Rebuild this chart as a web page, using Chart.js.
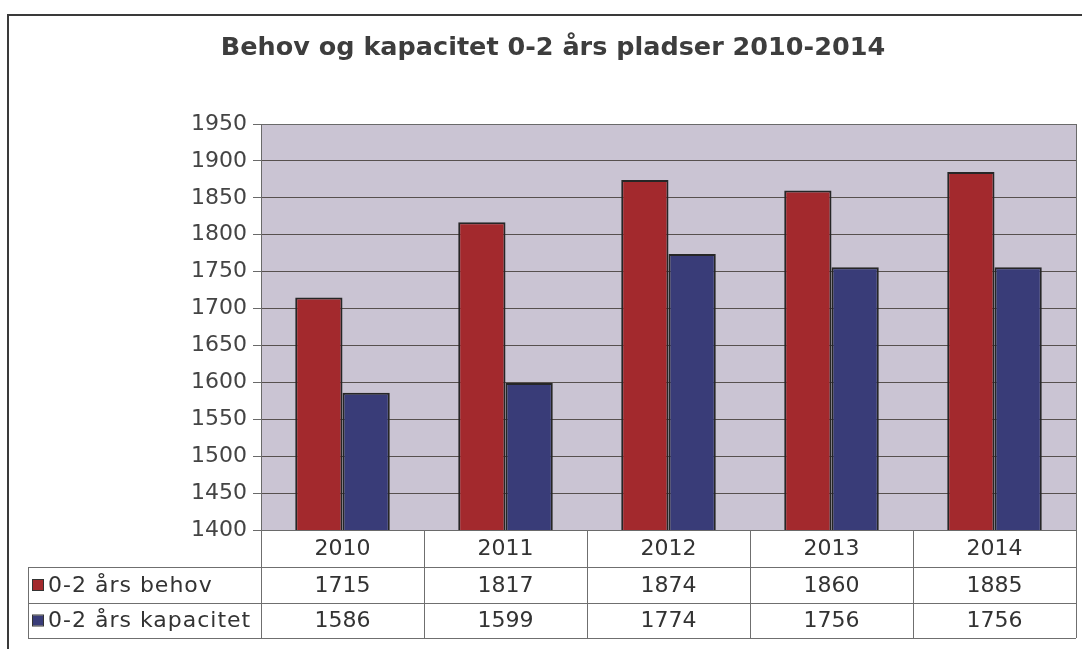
<!DOCTYPE html>
<html>
<head>
<meta charset="utf-8">
<script src="https://cdn.jsdelivr.net/npm/chart.js@4"></script>
<style>
  body { margin: 0; background: #fff; }
  canvas { display: block; }
</style>
</head>
<body>
<canvas id="chart" width="1082" height="649"></canvas>
<script>
var years = ['2010', '2011', '2012', '2013', '2014'];
var behov = [1715, 1817, 1874, 1860, 1885];
var kapacitet = [1586, 1599, 1774, 1756, 1756];
var seriesNames = ['0-2 års behov', '0-2 års kapacitet'];
var seriesColors = ['#a3292d', '#393c78'];
var titleText = 'Behov og kapacitet 0-2 års pladser 2010-2014';
var yMin = 1400, yMax = 1950, yStep = 50;

var fontFamily = '"DejaVu Sans", Verdana, sans-serif';

// frame, title, plot background and the data table under the bars
var chartDecor = {
  id: 'chartDecor',
  beforeDraw: function (chart) {
    var ctx = chart.ctx;
    var a = chart.chartArea;
    ctx.save();
    ctx.fillStyle = '#cac4d3';
    ctx.fillRect(a.left, a.top, a.right - a.left, a.bottom - a.top);
    ctx.restore();
  },
  afterDraw: function (chart) {
    var ctx = chart.ctx;
    var a = chart.chartArea;
    var x = chart.scales.x;
    var n = years.length;
    var colW = (a.right - a.left) / n;
    var rowTop = [a.bottom, 567, 603];
    var rowBottom = 638;
    var legendLeft = 28;

    ctx.save();
    // outer frame
    ctx.strokeStyle = '#3a3a3a';
    ctx.lineWidth = 2;
    ctx.strokeRect(8, 15, 1100, 700);

    // title
    ctx.fillStyle = '#3d3d3d';
    ctx.font = 'bold 25.5px ' + fontFamily;
    ctx.textAlign = 'center';
    ctx.textBaseline = 'middle';
    ctx.fillText(titleText, 553, 48);

    // plot border
    ctx.strokeStyle = '#6a6a6a';
    ctx.lineWidth = 1;
    ctx.strokeRect(a.left + 0.5, a.top + 0.5, a.right - a.left, a.bottom - a.top);

    // table grid
    ctx.strokeStyle = '#6f6f6f';
    ctx.beginPath();
    for (var i = 0; i <= n; i++) {
      var cx = Math.round(a.left + i * colW) + 0.5;
      ctx.moveTo(cx, a.bottom);
      ctx.lineTo(cx, rowBottom);
    }
    ctx.moveTo(legendLeft + 0.5, rowTop[1]);
    ctx.lineTo(legendLeft + 0.5, rowBottom);
    [rowTop[1], rowTop[2], rowBottom].forEach(function (y) {
      ctx.moveTo(legendLeft, y + 0.5);
      ctx.lineTo(a.right, y + 0.5);
    });
    ctx.stroke();

    // table text
    ctx.fillStyle = '#333';
    ctx.font = '22px ' + fontFamily;
    ctx.textAlign = 'center';
    ctx.textBaseline = 'middle';
    var rows = [years, behov, kapacitet];
    for (var r = 0; r < rows.length; r++) {
      var yMid = ((r < 2 ? rowTop[r + 1] : rowBottom) + rowTop[r]) / 2 + 1;
      for (var c = 0; c < n; c++) {
        ctx.fillText(String(rows[r][c]), x.getPixelForValue(c), yMid);
      }
    }

    // legend keys
    ctx.textAlign = 'left';
    ctx.letterSpacing = '1px';
    for (var s = 0; s < seriesNames.length; s++) {
      var ly = (rowTop[s + 1] + (s === 0 ? rowTop[2] : rowBottom)) / 2;
      ctx.fillStyle = seriesColors[s];
      ctx.fillRect(33, ly - 5, 10, 10);
      ctx.strokeStyle = '#333';
      ctx.strokeRect(32.5, ly - 5.5, 11, 11);
      ctx.fillStyle = '#333';
      ctx.fillText(seriesNames[s], 48, ly + 1);
    }
    ctx.restore();
  }
};

new Chart(document.getElementById('chart'), {
  type: 'bar',
  data: {
    labels: years,
    datasets: [
      {
        label: seriesNames[0],
        data: behov,
        backgroundColor: seriesColors[0],
        borderColor: '#262626',
        borderWidth: 2
      },
      {
        label: seriesNames[1],
        data: kapacitet,
        backgroundColor: seriesColors[1],
        borderColor: '#262626',
        borderWidth: 2
      }
    ]
  },
  options: {
    responsive: false,
    animation: false,
    layout: { padding: { top: 124, right: 6, bottom: 119, left: 0 } },
    datasets: { bar: { categoryPercentage: 0.58, barPercentage: 1 } },
    plugins: {
      legend: { display: false },
      title: { display: false },
      tooltip: { enabled: false }
    },
    scales: {
      x: { display: false },
      y: {
        min: yMin,
        max: yMax,
        afterFit: function (scale) { scale.width = 261; },
        ticks: {
          stepSize: yStep,
          padding: 6,
          color: '#444',
          font: { family: fontFamily, size: 22 },
          callback: function (v) { return String(v); }
        },
        border: { color: '#6a6a6a' },
        grid: { color: '#57504e', tickLength: 8, tickColor: '#6a6a6a' }
      }
    }
  },
  plugins: [chartDecor]
});
</script>
</body>
</html>
